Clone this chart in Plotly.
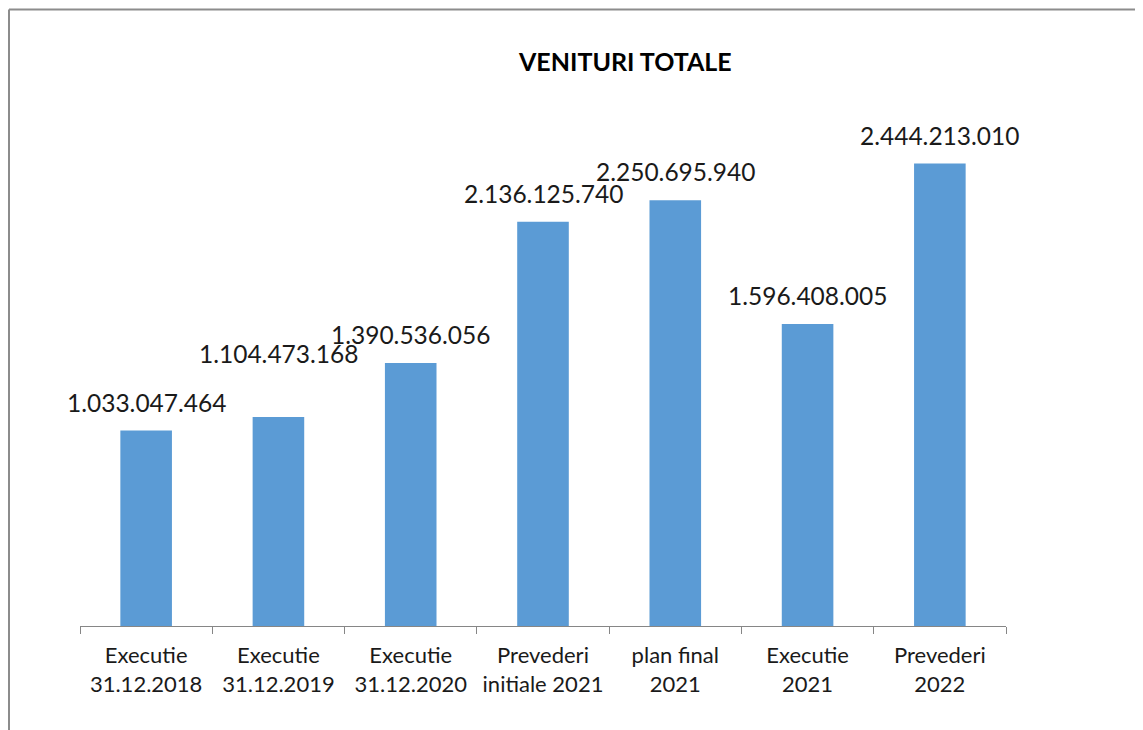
import plotly.graph_objects as go

categories = ["Executie<br>31.12.2018", "Executie<br>31.12.2019", "Executie<br>31.12.2020",
              "Prevederi<br>initiale 2021", "plan final<br>2021", "Executie<br>2021", "Prevederi<br>2022"]
values = [1033047464, 1104473168, 1390536056, 2136125740, 2250695940, 1596408005, 2444213010]
labels = ["1.033.047.464", "1.104.473.168", "1.390.536.056", "2.136.125.740",
          "2.250.695.940", "1.596.408.005", "2.444.213.010"]

# page body has an 8px default margin, so the figure starts at (8, 8)
OFF = 8
W, H = 1143 - OFF, 730 - OFF
ML, MR, MT, MB = 80 - OFF, 137, 100 - OFF, 104
pw, ph = W - ML - MR, H - MT - MB
px_per_unit = 189.2e-9
ymax = ph / px_per_unit

fig = go.Figure(go.Bar(x=categories, y=values, marker=dict(color="#5B9BD5", line=dict(width=0)),
                       width=0.39, hoverinfo="skip"))

shifts = [12, 47, 12, 12, 12, 12, 12]
for c, v, t, s in zip(categories, values, labels, shifts):
    fig.add_annotation(x=c, y=v, text=t, showarrow=False, yanchor="bottom", yshift=s,
                       font=dict(family="Lato", size=24.5, color="#1a1a1a"))

fig.add_annotation(xref="paper", yref="paper", x=(625 - OFF - ML) / pw, y=1 + (MT - (61 - OFF)) / ph,
                   text="<b>VENITURI TOTALE</b>", showarrow=False, xanchor="center", yanchor="middle",
                   font=dict(family="Lato", size=25, color="#000000"))

bx, by = 1, 1.5
fig.add_shape(type="line", xref="paper", yref="paper", x0=(bx - ML) / pw, x1=(W - ML) / pw,
              y0=1 + (MT - by) / ph, y1=1 + (MT - by) / ph, line=dict(color="#8c8c8c", width=2))
fig.add_shape(type="line", xref="paper", yref="paper", x0=(bx - ML) / pw, x1=(bx - ML) / pw,
              y0=1 + (MT - by) / ph, y1=-MB / ph, line=dict(color="#8c8c8c", width=2))

fig.update_layout(
    width=W, height=H, margin=dict(l=ML, r=MR, t=MT, b=MB),
    paper_bgcolor="white", plot_bgcolor="white", showlegend=False,
    xaxis=dict(range=[-0.5, len(categories) - 0.5], showline=True, linecolor="#868686", linewidth=1,
               ticks="outside", ticklen=7, tickcolor="#868686", tickson="boundaries", showgrid=False,
               ticklabelstandoff=10,
               tickfont=dict(family="Lato", size=22, color="#1a1a1a"), fixedrange=True),
    yaxis=dict(range=[0, ymax], visible=False, showgrid=False, fixedrange=True),
)
fig.write_html("out.html")
